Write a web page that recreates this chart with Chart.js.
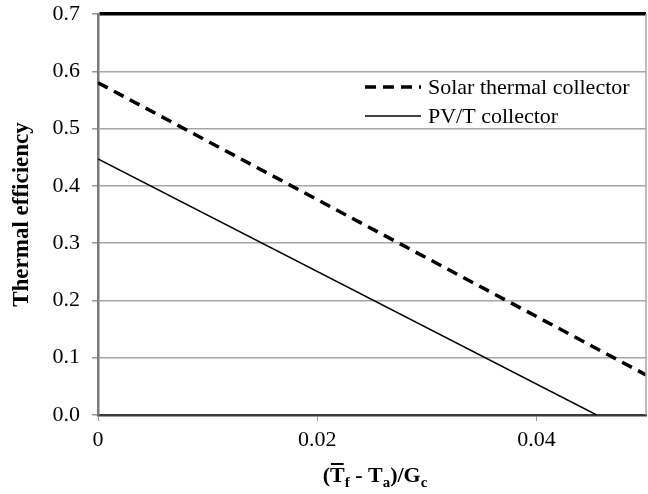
<!DOCTYPE html>
<html>
<head>
<meta charset="utf-8">
<script src="https://cdn.jsdelivr.net/npm/chart.js@4.4.1/dist/chart.umd.min.js"></script>
<style>
  html, body { margin: 0; padding: 0; background: #fff; }
  #wrap { width: 648px; height: 494px; }
</style>
</head>
<body>
<div id="wrap"><canvas id="chart" width="648" height="494"></canvas></div>
<script>
// Efficiency curves: x = (Tf - Ta)/Gc, y = thermal efficiency
const solarX = [0, 0.05];
const solarY = [0.58, 0.07];
const pvtX = [0, 0.0455];
const pvtY = [0.447, 0];

const xTicks = [0, 0.02, 0.04];
const yTicks = [0, 0.1, 0.2, 0.3, 0.4, 0.5, 0.6, 0.7];
const seriesNames = ['Solar thermal collector', 'PV/T collector'];

const serif = "'Liberation Serif', 'Times New Roman', serif";

function toPoints(xs, ys) {
    return xs.map((x, i) => ({ x: x, y: ys[i] }));
}

// Right-hand border of the plot area
const frame = {
    id: 'frame',
    afterDraw(chart) {
        const a = chart.chartArea;
        const ctx = chart.ctx;
        ctx.save();
        ctx.strokeStyle = '#a6a6a6';
        ctx.lineWidth = 1.5;
        ctx.beginPath();
        ctx.moveTo(a.right, a.top);
        ctx.lineTo(a.right, a.bottom);
        ctx.stroke();
        ctx.restore();
    }
};

// Legend inside the plot, built from the dataset styles
const innerLegend = {
    id: 'innerLegend',
    afterDraw(chart) {
        const ctx = chart.ctx;
        const x0 = 365, x1 = 421, tx = 428;
        const rows = [87, 116];
        ctx.save();
        chart.data.datasets.forEach((ds, i) => {
            ctx.strokeStyle = ds.borderColor;
            ctx.lineWidth = ds.borderWidth;
            ctx.setLineDash(ds.borderDash || []);
            ctx.beginPath();
            ctx.moveTo(x0, rows[i]);
            ctx.lineTo(x1, rows[i]);
            ctx.stroke();
            ctx.setLineDash([]);
            ctx.fillStyle = '#000';
            ctx.font = '22px ' + serif;
            ctx.textBaseline = 'middle';
            ctx.fillText(ds.label, tx, rows[i] + 1);
        });
        ctx.restore();
    }
};

// X axis title with overline and subscripts
const xTitle = {
    id: 'xTitle',
    afterDraw(chart) {
        const ctx = chart.ctx;
        const a = chart.chartArea;
        const main = 'bold 22px ' + serif;
        const sub = 'bold 15px ' + serif;
        const parts = [
            { t: '(', f: main, dy: 0 },
            { t: 'T', f: main, dy: 0, bar: true },
            { t: 'f', f: sub, dy: 5 },
            { t: ' - T', f: main, dy: 0 },
            { t: 'a', f: sub, dy: 5 },
            { t: ')/G', f: main, dy: 0 },
            { t: 'c', f: sub, dy: 5 }
        ];
        ctx.save();
        let total = 0;
        parts.forEach(p => { ctx.font = p.f; p.w = ctx.measureText(p.t).width; total += p.w; });
        let x = (a.left + a.right) / 2 - total / 2 + 3;
        const base = 482;
        ctx.fillStyle = '#000';
        ctx.textBaseline = 'alphabetic';
        parts.forEach(p => {
            ctx.font = p.f;
            ctx.fillText(p.t, x, base + p.dy);
            if (p.bar) {
                ctx.fillRect(x + 1, base - 19, p.w - 2, 2);
            }
            x += p.w;
        });
        ctx.restore();
    }
};

new Chart(document.getElementById('chart'), {
    type: 'scatter',
    data: {
        datasets: [
            {
                label: seriesNames[0],
                data: toPoints(solarX, solarY),
                showLine: true,
                borderColor: '#000',
                borderWidth: 3.5,
                borderDash: [11, 7],
                pointRadius: 0,
                fill: false
            },
            {
                label: seriesNames[1],
                data: toPoints(pvtX, pvtY),
                showLine: true,
                borderColor: '#000',
                borderWidth: 1.5,
                pointRadius: 0,
                fill: false
            }
        ]
    },
    options: {
        responsive: false,
        animation: false,
        layout: { padding: { top: 14, right: 2, left: 0, bottom: 0 } },
        plugins: {
            legend: { display: false },
            tooltip: { enabled: false }
        },
        scales: {
            x: {
                type: 'linear',
                min: 0,
                max: 0.05,
                afterBuildTicks: scale => { scale.ticks = xTicks.map(v => ({ value: v })); },
                afterFit: scale => { scale.height = 79; scale.paddingRight = 0; },
                border: { color: '#3a3a3a', width: 2.5 },
                grid: {
                    drawOnChartArea: false,
                    drawTicks: true,
                    tickLength: 6,
                    tickColor: '#999'
                },
                ticks: {
                    color: '#000',
                    padding: 6,
                    maxRotation: 0,
                    font: { family: serif, size: 22 },
                    callback: v => v === 0 ? '0' : v.toFixed(2)
                }
            },
            y: {
                type: 'linear',
                min: 0,
                max: 0.7,
                afterBuildTicks: scale => { scale.ticks = yTicks.map(v => ({ value: v })); },
                afterFit: scale => { scale.width = 98; scale.paddingTop = 0; scale.paddingBottom = 0; },
                border: { color: '#7a7a7a', width: 2.5 },
                grid: {
                    color: ctx => ctx.tick && ctx.tick.value === 0.7 ? '#000' : '#a6a6a6',
                    lineWidth: ctx => ctx.tick && ctx.tick.value === 0.7 ? 3.5 : 1.5,
                    tickLength: 6,
                    tickColor: '#999',
                    tickWidth: 1.5
                },
                ticks: {
                    color: '#000',
                    padding: 12,
                    font: { family: serif, size: 22 },
                    callback: v => v.toFixed(1)
                },
                title: {
                    display: true,
                    text: 'Thermal efficiency',
                    color: '#000',
                    padding: { top: 8, bottom: 0 },
                    font: { family: serif, size: 23, weight: 'bold' }
                }
            }
        }
    },
    plugins: [frame, innerLegend, xTitle]
});
</script>
</body>
</html>
